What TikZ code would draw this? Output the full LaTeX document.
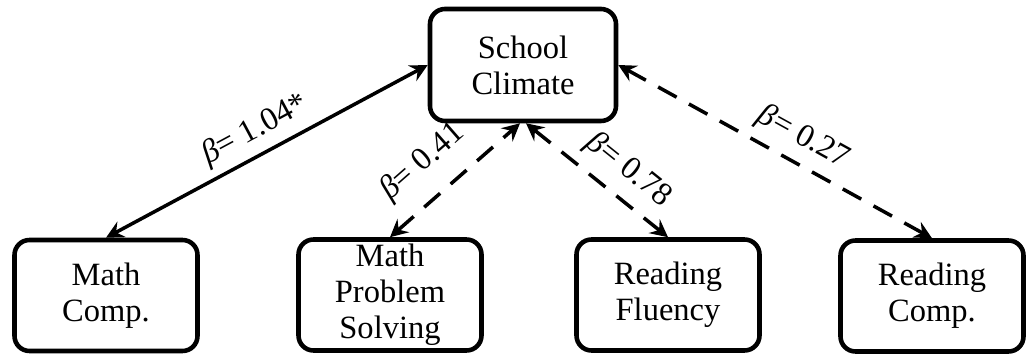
\documentclass[tikz,border=0pt]{standalone}
\usepackage{fontspec}
\setmainfont{Liberation Serif}
\usetikzlibrary{arrows.meta}
\tikzset{
	box/.style = {draw, line width = 2.6pt, rounded corners = 0.3cm, minimum width = 3.66cm, minimum height = 2.22cm, align = center, inner sep = 0pt, font = \fontsize{18.5}{20.5}\selectfont},
	link/.style = {line width = 2pt, {Stealth[length = 10pt, width = 10pt, inset = 3.5pt]}-{Stealth[length = 10pt, width = 10pt, inset = 3.5pt]}},
	weak/.style = {link, dash pattern = on 12pt off 8pt},
	coef/.style = {sloped, font = \fontsize{18.5}{20.5}\selectfont}
}
\begin{document}
\begin{tikzpicture}
	\useasboundingbox (0, 0) rectangle (20.52, 7.16);
	\node[box, minimum width = 3.72cm, minimum height = 2.24cm] (climate) at (10.46, 5.86) {School\\Climate};
	\node[box] (mathcomp) at (2.12, 1.25) {Math\\Comp.};
	\node[box] (mathps) at (7.8, 1.26) {Math\\Problem\\Solving};
	\node[box] (readflu) at (13.36, 1.26) {Reading\\Fluency};
	\node[box] (readcomp) at (18.64, 1.24) {Reading\\Comp.};
	\draw[link] (mathcomp.north) -- node[coef, above = 1pt, pos = 0.5]{{\itshape β}= 1.04*} (climate.west);
	\draw[weak] (mathps.north) -- node[coef, above = 7pt, pos = 0.43]{{\itshape β}= 0.41} ([xshift = -0.06cm]climate.south);
	\draw[weak] ([xshift = 0.06cm]climate.south) -- node[coef, above = 3pt, pos = 0.6]{{\itshape β}= 0.78} (readflu.north);
	\draw[weak] (climate.east) -- node[coef, above = 2pt, pos = 0.55]{{\itshape β}= 0.27} (readcomp.north);
\end{tikzpicture}
\end{document}
